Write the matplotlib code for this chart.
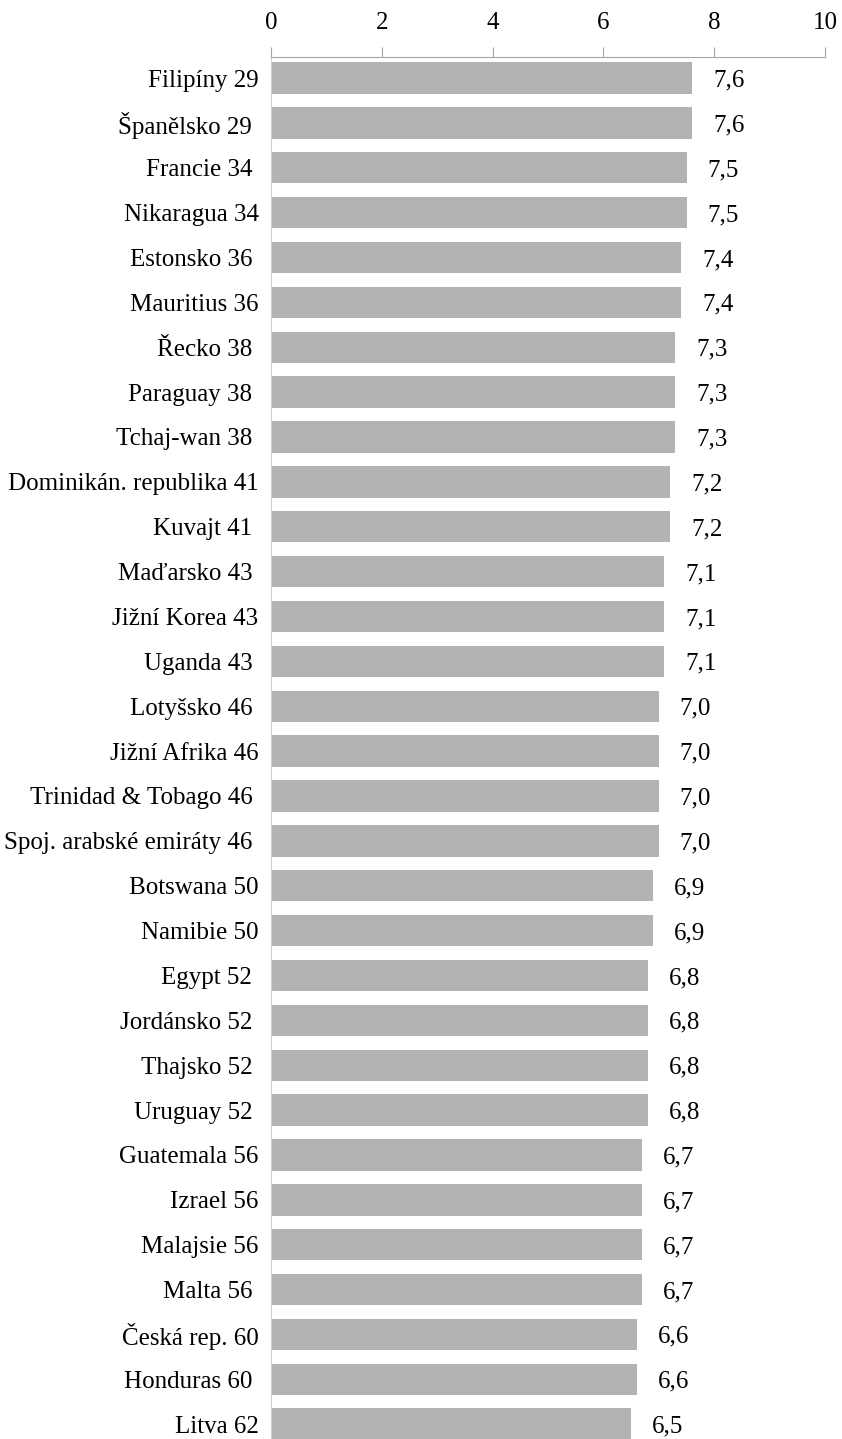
import matplotlib.pyplot as plt

plt.rcParams['font.family'] = ['Liberation Serif', 'DejaVu Serif']

countries = ["Filipíny 29", "Španělsko 29 ", "Francie 34 ", "Nikaragua 34",
             "Estonsko 36 ", "Mauritius 36", "Řecko 38 ", "Paraguay 38 ",
             "Tchaj-wan 38 ", "Dominikán. republika 41", "Kuvajt 41 ",
             "Maďarsko 43 ", "Jižní Korea 43", "Uganda 43 ", "Lotyšsko 46 ",
             "Jižní Afrika 46", "Trinidad & Tobago 46 ", "Spoj. arabské emiráty 46 ",
             "Botswana 50", "Namibie 50", "Egypt 52 ", "Jordánsko 52 ",
             "Thajsko 52 ", "Uruguay 52 ", "Guatemala 56", "Izrael 56",
             "Malajsie 56", "Malta 56 ", "Česká rep. 60", "Honduras 60 ",
             "Litva 62"]
scores = [7.6, 7.6, 7.5, 7.5, 7.4, 7.4, 7.3, 7.3, 7.3, 7.2, 7.2, 7.1, 7.1,
          7.1, 7.0, 7.0, 7.0, 7.0, 6.9, 6.9, 6.8, 6.8, 6.8, 6.8, 6.7, 6.7,
          6.7, 6.7, 6.6, 6.6, 6.5]
ticks = [0, 2, 4, 6, 8, 10]

fs = 18

fig = plt.figure(figsize=(8.42, 14.39), dpi=100)
ax = fig.add_axes([271 / 842, 0.0, 554 / 842, 1 - 57 / 1439])

pos = list(range(len(countries)))
ax.barh(pos, scores, height=0.7, color='#b3b3b3')

# value labels to the right of each bar, with decimal comma
for y, v in zip(pos, scores):
    ax.text(v + 0.38, y, f"{v:.1f}".replace('.', ','), va='center_baseline',
            ha='left', fontsize=fs)

ax.set_xlim(0, 10)
ax.set_ylim(30.33, -0.468)
ax.set_yticks(pos)
ax.set_yticklabels(countries, fontsize=fs)
ax.tick_params(axis='y', length=0, pad=9)

ax.xaxis.tick_top()
ax.set_xticks(ticks)
ax.set_xticklabels([str(t) for t in ticks], fontsize=fs)
ax.tick_params(axis='x', direction='out', length=7, color='#a6a6a6', pad=9.5)

for side in ['right', 'bottom']:
    ax.spines[side].set_visible(False)
ax.spines['top'].set_color('#a6a6a6')
ax.spines['left'].set_color('#d0d0d0')

fig.savefig('out.png', dpi=100)
